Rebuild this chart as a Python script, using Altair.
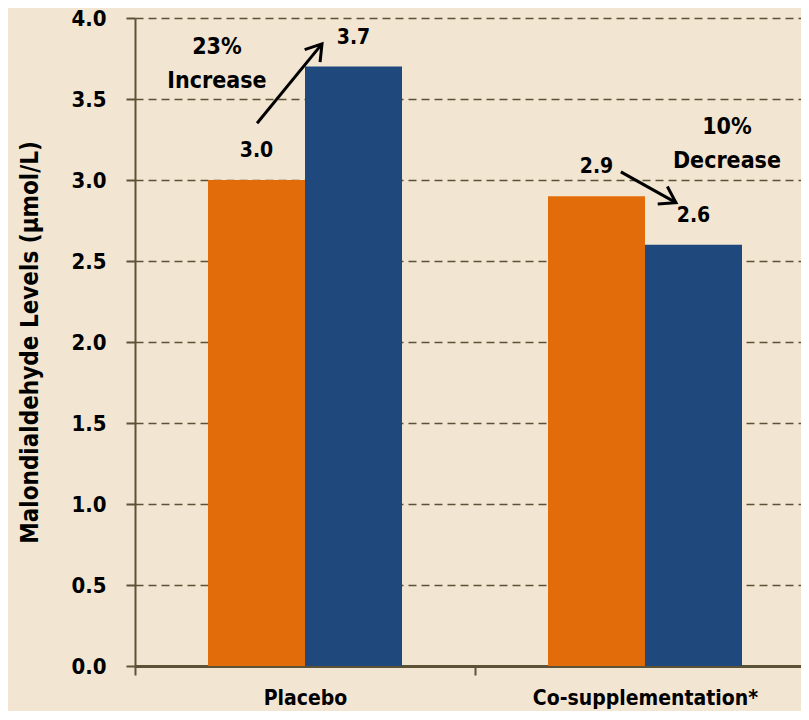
import altair as alt
import pandas as pd

# ---- data ----
groups = ["Placebo", "Co-supplementation*"]
series = ["Before", "After"]
values_before = [3.0, 2.9]
values_after = [3.7, 2.6]

ann_labels = ["23%\nIncrease", "10%\nDecrease"]
ann_groups = ["Placebo", "Co-supplementation*"]
ann_values = [3.82, 3.33]

arrow_groups = ["Placebo", "Co-supplementation*"]
arrow_from = [3.35, 3.05]
arrow_to = [3.84, 2.86]

title_text = "OXIDATIVE STRESS"
y_title = "Malondialdehyde Levels (\u03bcmol/L)"

# ---- style ----
FONT = "DejaVu Sans Condensed, sans-serif"
BG = "#F2E6D3"
AX = "#5C5237"
ORANGE = "#E36C0A"
BLUE = "#1F497D"

# band positions (fractions within each group band) for annotations
ann_band = [0.241, 0.741]
arrow_band_from = [0.359, 0.429]
arrow_band_to = [0.55, 0.591]
arrow_angle = [39, 119]

rows = []
for g, b, a in zip(groups, values_before, values_after):
    rows.append({"Group": g, "Series": series[0], "Value": b})
    rows.append({"Group": g, "Series": series[1], "Value": a})
df = pd.DataFrame(rows)

x_scale = alt.Scale(domain=groups, range=[0, 680], paddingInner=0, paddingOuter=0)
x_axis = alt.Axis(
    title=None, tickBand="extent", labelAngle=0, labelFont=FONT, labelFontSize=21,
    labelFontWeight="bold", labelColor="black", labelPadding=12, labelLimit=500,
    tickSize=9, tickColor=AX, tickWidth=2, domainColor=AX, domainWidth=3, grid=False,
)
y_scale = alt.Scale(domain=[0, 4], nice=False)
y_axis = alt.Axis(
    title=y_title, values=[0, 0.5, 1.0, 1.5, 2.0, 2.5, 3.0, 3.5, 4.0], format=".1f",
    labelFont=FONT, labelFontSize=22, labelFontWeight="bold", labelColor="black",
    labelPadding=20, tickSize=9, tickColor=AX, tickWidth=2, domainColor=AX,
    domainWidth=2, grid=True, gridColor=AX, gridDash=[8, 5], gridWidth=1.5,
    titleFont=FONT, titleFontSize=24, titleFontWeight="bold", titleColor="black",
    titleAngle=270, titleX=-105, titleY=324, titleAlign="center", titleBaseline="middle",
)

base = alt.Chart(df)
bars = base.mark_bar().encode(
    x=alt.X("Group:N", sort=groups, scale=x_scale, axis=x_axis),
    xOffset=alt.XOffset("Series:N", sort=series,
                        scale=alt.Scale(paddingInner=0, paddingOuter=0.7526)),
    y=alt.Y("Value:Q", scale=y_scale, axis=y_axis),
    color=alt.Color("Series:N", sort=series,
                    scale=alt.Scale(domain=series, range=[ORANGE, BLUE]), legend=None),
)
labels = base.mark_text(dy=-29, baseline="middle", font=FONT, fontSize=21,
                        fontWeight="bold", color="black").encode(
    x=alt.X("Group:N", sort=groups),
    xOffset=alt.XOffset("Series:N", sort=series),
    y=alt.Y("Value:Q"),
    text=alt.Text("Value:Q", format=".1f"),
)

layers = [bars, labels]

for i in range(len(ann_labels)):
    adf = pd.DataFrame({"Group": [ann_groups[i]], "Value": [ann_values[i]],
                        "Label": [ann_labels[i]]})
    layers.append(
        alt.Chart(adf).mark_text(lineBreak="\n", lineHeight=34, baseline="middle",
                                 align="center", font=FONT, fontSize=23,
                                 fontWeight="bold", color="black").encode(
            x=alt.X("Group:N", sort=groups, bandPosition=ann_band[i]),
            y=alt.Y("Value:Q"),
            text="Label:N",
        )
    )

for i in range(len(arrow_groups)):
    rdf = pd.DataFrame({"Group": [arrow_groups[i]], "Value": [arrow_from[i]],
                        "Value2": [arrow_to[i]]})
    layers.append(
        alt.Chart(rdf).mark_rule(strokeWidth=3, color="black").encode(
            x=alt.X("Group:N", sort=groups, bandPosition=arrow_band_from[i]),
            x2=alt.X2(field="Group", bandPosition=arrow_band_to[i]),
            y=alt.Y("Value:Q"),
            y2=alt.Y2(field="Value2"),
        )
    )
    hdf = pd.DataFrame({"Group": [arrow_groups[i]], "Value": [arrow_to[i]]})
    layers.append(
        alt.Chart(hdf).mark_point(shape="M -0.55 0.85 L 0 0 L 0.55 0.85", filled=False,
                                  strokeWidth=3, color="black", opacity=1, size=1300,
                                  angle=arrow_angle[i]).encode(
            x=alt.X("Group:N", sort=groups, bandPosition=arrow_band_to[i]),
            y=alt.Y("Value:Q"),
        )
    )

chart = alt.layer(*layers).properties(
    width=666, height=648,
    title=alt.TitleParams(title_text, font=FONT, fontSize=26, fontWeight="bold",
                          color="black", anchor="middle", offset=6),
    autosize=alt.AutoSizeParams(type="none"),
    padding={"left": 127, "top": 10, "right": 0, "bottom": 45},
).configure(background=BG).configure_view(stroke=None)

chart.save("out.html", embed_options={"renderer": "svg", "actions": False})
